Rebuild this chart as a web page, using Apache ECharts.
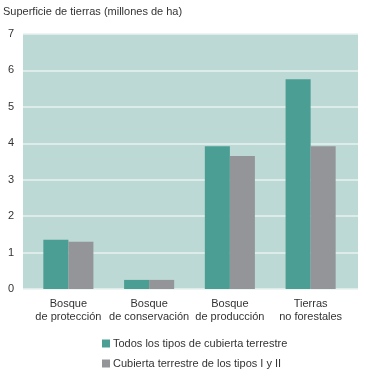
<!DOCTYPE html>
<html><head><meta charset="utf-8">
<script src="https://cdn.jsdelivr.net/npm/echarts@6/dist/echarts.min.js"></script>
<style>html,body{margin:0;padding:0;background:#fff}#c{width:365px;height:377px}</style>
</head><body><div id="c"></div>
<script>
const categories = ["Bosque\nde protección", "Bosque\nde conservación", "Bosque\nde producción", "Tierras\nno forestales"];
const seriesNames = ["Todos los tipos de cubierta terrestre", "Cubierta terrestre de los tipos I y II"];
const todosValues = [1.35, 0.25, 3.92, 5.76];
const tiposValues = [1.30, 0.25, 3.65, 3.92];
const yTicks = [0, 1, 2, 3, 4, 5, 6, 7];

const chart = echarts.init(document.getElementById('c'), null, {renderer: 'canvas'});
const font = 'Liberation Sans, Arial, sans-serif';
const yMin = yTicks[0], yMax = yTicks[yTicks.length-1];
chart.setOption({
  animation: false,
  textStyle: {fontFamily: font},
  title: {text: 'Superficie de tierras (millones de ha)', left: -2, top: 1,
    textStyle: {fontSize: 11, fontWeight: 'normal', color: '#333', fontFamily: font}},
  grid: [
    {left: 23, right: 7, top: 34, bottom: 88, show: true, backgroundColor: '#bdd9d5', borderWidth: 0},
    {left: 28, right: 14, top: 34, bottom: 88, show: false}
  ],
  legend: {orient: 'vertical', left: 97, top: 333, itemWidth: 8, itemHeight: 8, itemGap: 9,
    icon: 'rect', textStyle: {fontSize: 11, color: '#333', padding: [0,0,0,-2]}, data: seriesNames},
  xAxis: [
    {type: 'category', gridIndex: 0, data: categories, show: false},
    {type: 'category', gridIndex: 1, data: categories,
     axisLine: {show: false}, axisTick: {show: false},
     axisLabel: {fontSize: 11, color: '#333', lineHeight: 13, margin: 8, interval: 0}}
  ],
  yAxis: [
    {type: 'value', gridIndex: 0, min: yMin, max: yMax, interval: 1,
     axisLine: {show: false}, axisTick: {show: false},
     axisLabel: {fontSize: 11, color: '#333', margin: 9},
     splitLine: {show: true, lineStyle: {color: '#e8f1ef', width: 1.5}}},
    {type: 'value', gridIndex: 1, min: yMin, max: yMax, interval: 1, show: false,
     splitLine: {show: false}}
  ],
  series: [
    {name: seriesNames[0], type: 'bar', xAxisIndex: 1, yAxisIndex: 1, data: todosValues,
     itemStyle: {color: '#4a9e94'}, barGap: '0%', barCategoryGap: '38%'},
    {name: seriesNames[1], type: 'bar', xAxisIndex: 1, yAxisIndex: 1, data: tiposValues,
     itemStyle: {color: '#949599'}, barGap: '0%', barCategoryGap: '38%'}
  ]
});
</script></body></html>
